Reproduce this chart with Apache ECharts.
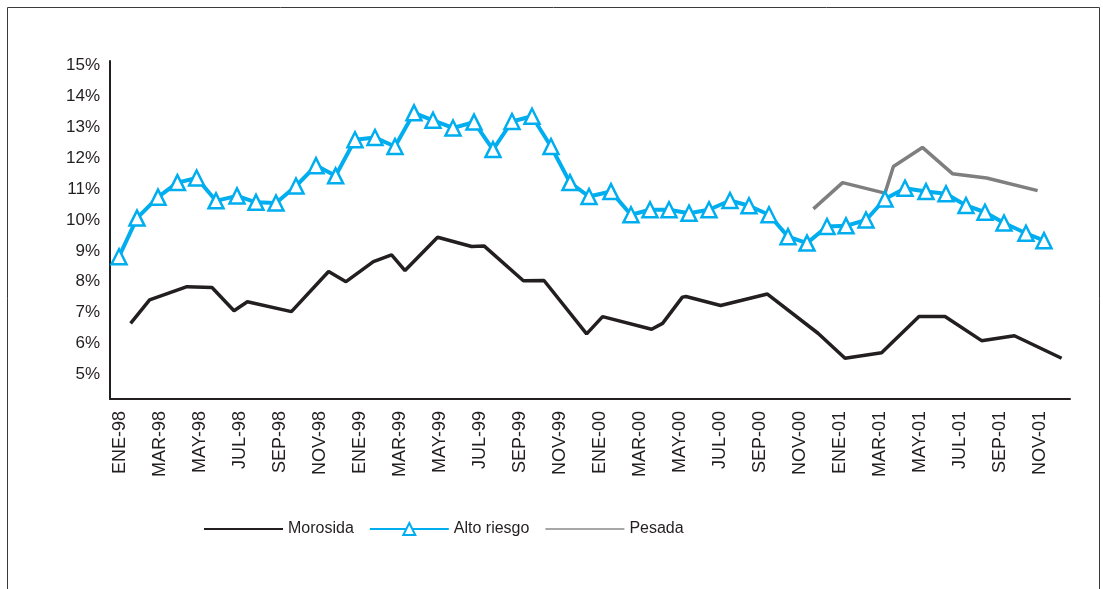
<!DOCTYPE html>
<html>
<head>
<meta charset="utf-8">
<script src="https://cdn.jsdelivr.net/npm/echarts@6/dist/echarts.min.js"></script>
<style>
  html, body { margin: 0; padding: 0; background: #fff; }
  #chart { width: 1103px; height: 589px; }
</style>
</head>
<body>
<div id="chart"></div>
<script>
// meses del eje (etiquetas de categoria)
var meses = ['ENE', 'FEB', 'MAR', 'ABR', 'MAY', 'JUN', 'JUL', 'AGO', 'SEP', 'OCT', 'NOV', 'DIC'];
var anios = ['98', '99', '00', '01'];
var categorias = [];
anios.forEach(function (a) {
  meses.forEach(function (m) { categorias.push(m + '-' + a); });
});

// posicion en meses desde ENE-98 (0 = ENE-98) y valor en %
var morosidaX = [0.53, 1.48, 3.35, 4.6, 5.7, 6.37, 8.57, 10.43, 11.3, 12.67, 13.58, 14.25, 15.88, 17.58, 18.2, 20.17, 21.2, 23.33, 24.13, 26.58, 27.13, 28.12, 28.3, 30.03, 32.37, 34.9, 36.25, 38.08, 39.95, 41.25, 43.08, 44.72, 47.08];
var morosidaY = [6.65, 7.41, 7.84, 7.81, 7.06, 7.35, 7.03, 8.33, 8.0, 8.65, 8.87, 8.36, 9.44, 9.14, 9.16, 8.03, 8.04, 6.31, 6.87, 6.46, 6.65, 7.5, 7.52, 7.23, 7.6, 6.33, 5.52, 5.7, 6.87, 6.87, 6.09, 6.25, 5.52];

var altoX = [-0.05, 0.85, 1.9, 2.87, 3.83, 4.8, 5.85, 6.8, 7.8, 8.8, 9.8, 10.78, 11.75, 12.75, 13.75, 14.7, 15.65, 16.65, 17.7, 18.65, 19.6, 20.6, 21.55, 22.5, 23.45, 24.55, 25.55, 26.5, 27.45, 28.45, 29.45, 30.5, 31.45, 32.45, 33.4, 34.35, 35.35, 36.3, 37.3, 38.25, 39.25, 40.3, 41.3, 42.3, 43.25, 44.2, 45.3, 46.2];
var altoY = [8.81, 10.06, 10.74, 11.21, 11.36, 10.62, 10.78, 10.57, 10.55, 11.1, 11.76, 11.43, 12.6, 12.67, 12.38, 13.47, 13.23, 12.98, 13.17, 12.28, 13.19, 13.36, 12.38, 11.21, 10.76, 10.92, 10.17, 10.33, 10.33, 10.22, 10.33, 10.63, 10.46, 10.17, 9.46, 9.25, 9.79, 9.81, 10.0, 10.68, 11.03, 10.92, 10.85, 10.47, 10.25, 9.9, 9.57, 9.33];

var pesadaX = [34.67, 36.13, 38.25, 38.67, 40.12, 41.62, 43.33, 45.88];
var pesadaY = [10.36, 11.21, 10.87, 11.73, 12.35, 11.5, 11.36, 10.95];

function pares(xs, ys) {
  return xs.map(function (x, i) { return [x, ys[i]]; });
}

var chart = echarts.init(document.getElementById('chart'), null, { renderer: 'canvas' });

var fuente = 'Liberation Sans, Arial, sans-serif';
var negro = '#231f20';

var option = {
  backgroundColor: '#ffffff',
  animation: false,
  textStyle: { fontFamily: fuente },
  graphic: [{
    type: 'rect',
    shape: { x: 7.5, y: 7.5, width: 1092, height: 620 },
    style: { fill: 'none', stroke: '#3a3a3a', lineWidth: 1 },
    silent: true
  }],
  grid: { left: 110, right: 33, top: 61, bottom: 190 },
  legend: {
    left: 198,
    top: 516,
    itemWidth: 79,
    itemHeight: 15,
    itemGap: 15,
    textStyle: { fontSize: 16, color: negro, fontFamily: fuente },
    data: [
      { name: 'Morosida', itemStyle: { opacity: 0 } },
      { name: 'Alto riesgo' },
      { name: 'Pesada', lineStyle: { color: '#a7a7a7' }, itemStyle: { opacity: 0 } }
    ]
  },
  xAxis: [{
    type: 'category',
    data: categorias,
    boundaryGap: true,
    axisLine: { lineStyle: { color: negro, width: 2 } },
    axisTick: { show: false },
    axisLabel: {
      interval: 1,
      rotate: 90,
      fontSize: 18,
      color: negro,
      margin: 12,
      fontFamily: fuente
    },
    splitLine: { show: false }
  }, {
    type: 'value',
    min: -0.5,
    max: 47.5,
    show: false,
    position: 'bottom'
  }],
  yAxis: {
    type: 'value',
    min: 4.2,
    max: 15.15,
    splitNumber: 11,
    axisLine: { show: true, onZero: false, lineStyle: { color: negro, width: 2 } },
    axisTick: { show: false },
    splitLine: { show: false },
    axisLabel: {
      fontSize: 17,
      color: negro,
      margin: 10,
      fontFamily: fuente,
      showMinLabel: false,
      showMaxLabel: false,
      formatter: function (v) {
        var r = Math.round(v);
        return Math.abs(v - r) < 1e-6 ? r + '%' : '';
      }
    }
  },
  series: [{
    name: 'Morosida',
    type: 'line',
    xAxisIndex: 1,
    data: pares(morosidaX, morosidaY),
    symbol: 'none',
    color: negro,
    lineStyle: { color: negro, width: 3.5 }
  }, {
    name: 'Alto riesgo',
    type: 'line',
    xAxisIndex: 1,
    data: pares(altoX, altoY),
    symbol: 'triangle',
    symbolSize: 15,
    showAllSymbol: true,
    color: '#00aeef',
    lineStyle: { color: '#00aeef', width: 4 },
    itemStyle: { color: '#ffffff', borderColor: '#00aeef', borderWidth: 2.5 }
  }, {
    name: 'Pesada',
    type: 'line',
    xAxisIndex: 1,
    data: pares(pesadaX, pesadaY),
    symbol: 'none',
    color: '#7f7f7f',
    lineStyle: { color: '#7f7f7f', width: 3.5 }
  }]
};

chart.setOption(option);
</script>
</body>
</html>
